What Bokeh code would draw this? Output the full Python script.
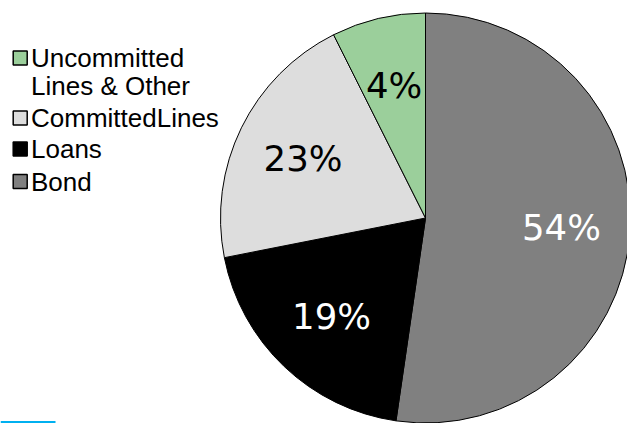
import math
from bokeh.plotting import figure
from bokeh.models import Range1d, ColumnDataSource
from bokeh.core.properties import value
from bokeh.embed import file_html
from bokeh.resources import INLINE

# ---- data (clockwise from 12 o'clock) ----
slices = ["Bond", "Loans", "Committed Lines", "Uncommitted Lines & Other"]
shares = [52.3, 19.6, 20.7, 7.4]           # angular share
labels = ["54%", "19%", "23%", "4%"]        # printed labels
colors = ["#808080", "#000000", "#DDDDDD", "#9BCF9B"]
label_colors = ["white", "white", "black", "black"]

legend_names = ["Uncommitted\nLines & Other", "CommittedLines", "Loans", "Bond"]
legend_colors = ["#9BCF9B", "#DDDDDD", "#000000", "#808080"]

# ---- layout ----
W, H = 627, 423
cx, cy, R = 425, 205.5, 205
p = figure(width=W, height=H, output_backend="svg", toolbar_location=None,
           x_range=Range1d(0, W), y_range=Range1d(0, H),
           x_axis_location=None, y_axis_location=None, min_border=0,
           outline_line_color=None, background_fill_color="white",
           border_fill_color="white")
p.grid.visible = False

total = sum(shares)
starts, ends, lx, ly = [], [], [], []
cum = 0.0
for s in shares:
    a0 = cum / total
    a1 = (cum + s) / total
    cum += s
    starts.append(math.pi / 2 - a1 * 2 * math.pi)
    ends.append(math.pi / 2 - a0 * 2 * math.pi)
    mid = math.pi / 2 - (a0 + a1) / 2 * 2 * math.pi
    lx.append(cx + 0.665 * R * math.cos(mid))
    ly.append(cy + 0.665 * R * math.sin(mid))

src = ColumnDataSource(dict(start=starts, end=ends, color=colors,
                            lx=lx, ly=ly, label=labels, lc=label_colors))
p.wedge(x=cx, y=cy, radius=R, start_angle="start", end_angle="end",
        direction="anticlock", fill_color="color", line_color="black",
        line_width=1, source=src)
p.text(x="lx", y="ly", text="label", text_color="lc", source=src,
       text_font=value("DejaVu Sans"), text_font_size="35.5px",
       text_align="center", text_baseline="middle")

# ---- legend (manual) ----
row_center = [365.5, 305.5, 274.5, 242.0]   # data y of first-line square centres
sq_x, sq_size, txt_x = 19.7, 14, 30.5
for name, col, yc in zip(legend_names, legend_colors, row_center):
    p.rect(x=sq_x, y=yc, width=sq_size, height=sq_size,
           fill_color=col, line_color="black", line_width=1.5)
    for k, line in enumerate(name.split("\n")):
        p.text(x=[txt_x], y=[yc - k * 28.3], text=[line], text_color="black",
               text_font=value("Liberation Sans"), text_font_size="26px",
               text_align="left", text_baseline="middle")

# stray blue rule at the bottom-left of the original
p.segment(x0=[0], y0=[1.5], x1=[55], y1=[1.5], line_color="#00B0F0", line_width=2)

open("out.html", "w").write(file_html(p, INLINE))
